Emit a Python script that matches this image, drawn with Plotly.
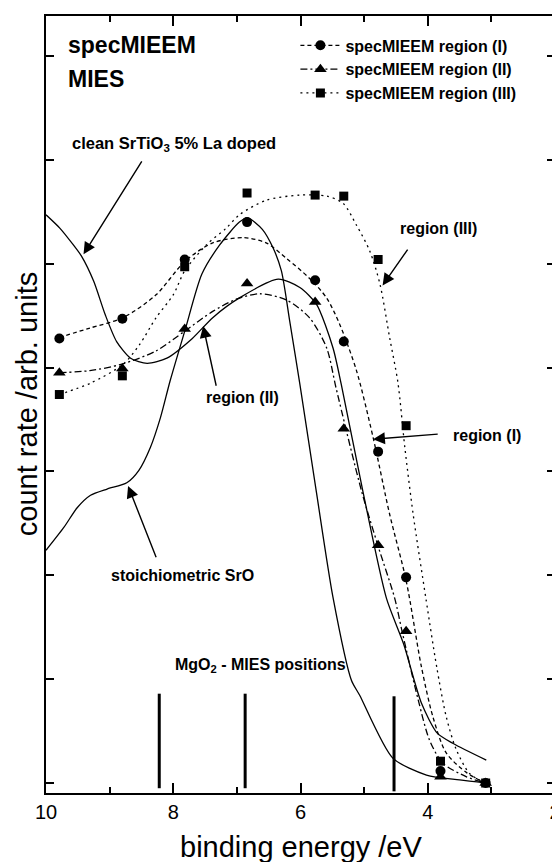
import plotly.graph_objects as go

# ---- measured specMIEEM points (binding energy / count rate, arb. units) ----
x_pts = [9.79, 8.80, 7.82, 6.84, 5.77, 5.32, 4.78, 4.34, 3.80, 3.09]
reg1_y = [4.28, 4.47, 5.04, 5.40, 4.84, 4.25, 3.19, 1.98, 0.115, 0.0]
reg2_y = [3.95, 3.99, 4.37, 4.81, 4.63, 3.41, 2.29, 1.46, 0.06, 0.0]
reg3_y = [3.74, 3.92, 4.97, 5.68, 5.66, 5.65, 5.04, 3.44, 0.21, 0.0]

# ---- smooth fit curves ----
fit1_x = [9.79, 9.31, 8.79, 8.27, 7.82, 7.38, 6.90, 6.54, 6.22, 5.86, 5.59, 5.38, 5.12, 4.86, 4.60, 4.34, 4.10, 3.92, 3.71, 3.39, 3.09]
fit1_y = [4.29, 4.38, 4.48, 4.70, 5.02, 5.20, 5.25, 5.20, 5.05, 4.86, 4.67, 4.41, 3.97, 3.33, 2.59, 1.95, 1.12, 0.64, 0.29, 0.10, 0.0]

fit2_x = [9.79, 9.31, 8.82, 8.27, 7.82, 7.38, 7.00, 6.64, 6.22, 5.86, 5.59, 5.44, 5.04, 4.78, 4.52, 4.40, 4.15, 3.97, 3.76, 3.39, 3.09]
fit2_y = [3.95, 3.97, 4.03, 4.16, 4.35, 4.54, 4.66, 4.71, 4.65, 4.48, 4.19, 3.80, 2.81, 2.28, 1.78, 1.45, 0.80, 0.41, 0.19, 0.06, 0.0]

fit3_x = [9.79, 9.30, 8.79, 8.53, 8.27, 8.00, 7.82, 7.48, 7.17, 6.96, 6.54, 6.01, 5.59, 5.33, 5.12, 4.91, 4.75, 4.60, 4.47, 4.36, 4.23, 4.03, 3.86, 3.71, 3.55, 3.34, 3.09]
fit3_y = [3.74, 3.85, 4.03, 4.22, 4.48, 4.70, 4.93, 5.18, 5.34, 5.47, 5.61, 5.66, 5.65, 5.58, 5.37, 5.12, 4.80, 4.29, 3.86, 3.23, 2.59, 1.78, 1.12, 0.64, 0.32, 0.09, 0.0]

# ---- reference spectra ----
srtio3_x = [10.0, 9.78, 9.57, 9.44, 9.25, 9.07, 8.89, 8.67, 8.41, 8.10, 7.70, 7.38, 6.96, 6.35, 6.01, 5.75, 5.49, 5.36, 5.02, 4.65, 4.38, 4.10, 3.85, 3.60, 3.08]
srtio3_y = [5.47, 5.34, 5.18, 5.07, 4.83, 4.51, 4.25, 4.09, 4.04, 4.09, 4.28, 4.48, 4.67, 4.85, 4.77, 4.61, 4.19, 3.84, 2.81, 1.78, 1.34, 0.77, 0.48, 0.38, 0.22]

sro_x = [10.0, 9.72, 9.51, 9.30, 9.04, 8.73, 8.54, 8.36, 8.20, 8.05, 7.81, 7.55, 7.27, 6.96, 6.83, 6.60, 6.43, 6.30, 6.17, 6.01, 5.75, 5.49, 5.20, 5.07, 4.55, 4.02, 3.50, 3.08]
sro_y = [2.24, 2.46, 2.65, 2.77, 2.83, 2.89, 3.01, 3.23, 3.52, 3.87, 4.37, 4.90, 5.18, 5.40, 5.44, 5.33, 5.15, 4.93, 4.45, 3.84, 2.80, 1.79, 0.99, 0.845, 0.24, 0.077, 0.03, 0.0]

# ---- MgO2 MIES positions (vertical bars) ----
mgo_pos = [8.22, 6.87, 4.53]
mgo_top = [0.86, 0.86, 0.835]
mgo_bottom = [-0.05, -0.05, -0.08]

FONT = "Liberation Sans, Arial, sans-serif"
BLK = "black"

fig = go.Figure()

# reference spectra (solid)
fig.add_trace(go.Scatter(x=srtio3_x, y=srtio3_y, mode="lines", line=dict(color=BLK, width=1.3, shape="spline", smoothing=0.7), showlegend=False))
fig.add_trace(go.Scatter(x=sro_x, y=sro_y, mode="lines", line=dict(color=BLK, width=1.3, shape="spline", smoothing=0.7), showlegend=False))

dash1 = "4px,3px"
dash2 = "7px,3px,2px,3px"
dash3 = "2px,4px"

series = [
    ("specMIEEM region (I)", fit1_x, fit1_y, reg1_y, "circle", 10, dash1),
    ("specMIEEM region (II)", fit2_x, fit2_y, reg2_y, "triangle-up", 11, dash2),
    ("specMIEEM region (III)", fit3_x, fit3_y, reg3_y, "square", 9, dash3),
]
for name, fx, fy, py, sym, ms, dsh in series:
    fig.add_trace(go.Scatter(x=fx, y=fy, mode="lines", line=dict(color=BLK, width=1.3, dash=dsh, shape="spline", smoothing=0.8), showlegend=False))
    fig.add_trace(go.Scatter(x=x_pts, y=py, mode="markers", marker=dict(symbol=sym, size=ms, color=BLK), showlegend=False))
    fig.add_trace(go.Scatter(x=[None], y=[None], mode="lines+markers", name="<b>" + name + "</b>",
                             line=dict(color=BLK, width=1.3, dash=dsh), marker=dict(symbol=sym, size=ms, color=BLK)))

# MgO2 bars
bx, by = [], []
for p, t, b in zip(mgo_pos, mgo_top, mgo_bottom):
    bx += [p, p, None]
    by += [b, t, None]
fig.add_trace(go.Scatter(x=bx, y=by, mode="lines", line=dict(color=BLK, width=3), showlegend=False))

ann = []
def txt(x, y, s, size=16):
    ann.append(dict(x=x, y=y, xref="x", yref="y", text=s, showarrow=False, xanchor="left", yanchor="middle",
                    font=dict(family=FONT, size=size, color=BLK)))

txt(9.69, 7.106, "<b>specMIEEM</b>", 23)
txt(9.69, 6.78, "<b>MIES</b>", 23)
txt(9.63, 6.155, "<b>clean SrTiO<sub>3</sub> 5% La doped</b>", 16.5)
txt(4.47, 5.34, "<b>region (III)</b>")
txt(7.52, 3.71, "<b>region (II)</b>")
txt(3.64, 3.35, "<b>region (I)</b>")
txt(9.01, 2.0, "<b>stoichiometric SrO</b>")
txt(8.0, 1.13, "<b>MgO<sub>2</sub> - MIES positions</b>")

def arrow(hx, hy, tx, ty):
    ann.append(dict(x=hx, y=hy, ax=tx, ay=ty, xref="x", yref="y", axref="x", ayref="y", text="",
                    showarrow=True, arrowhead=2, arrowsize=1.7, arrowwidth=1.4, arrowcolor=BLK))

arrow(9.41, 5.09, 8.48, 6.0)
arrow(4.71, 4.79, 4.30, 5.15)
arrow(7.53, 4.40, 7.32, 3.81)
arrow(4.86, 3.31, 3.82, 3.36)
arrow(8.71, 2.86, 8.26, 2.16)

# axis titles
ann.append(dict(x=0.5, y=-0.0697, xref="paper", yref="paper", text="binding energy /eV", showarrow=False,
                xanchor="center", yanchor="middle", font=dict(family=FONT, size=29, color=BLK)))
ann.append(dict(x=-0.038, y=0.5, xref="paper", yref="paper", text="count rate /arb. units", showarrow=False,
                textangle=-90, xanchor="center", yanchor="middle", font=dict(family=FONT, size=29, color=BLK)))

# the page body adds an 8 px margin, so the plot area is placed 8 px up/left
fig.update_layout(
    width=560, height=862,
    margin=dict(l=38.4, r=12.6, t=6, b=77.3),
    paper_bgcolor="white", plot_bgcolor="white",
    font=dict(family=FONT, color=BLK),
    annotations=ann,
    legend=dict(x=0.49, y=0.984, xanchor="left", yanchor="top", bgcolor="rgba(0,0,0,0)",
                font=dict(family=FONT, size=16, color=BLK), itemwidth=40, tracegroupgap=0),
)
fig.update_xaxes(range=[10, 2], tickvals=[10, 8, 6, 4, 2], ticktext=["10", "8", "6", "4", "2"],
                 ticks="inside", ticklen=10, tickwidth=1.5, tickcolor=BLK, ticklabeloverflow="allow",
                 minor=dict(tickvals=[9, 7, 5, 3], ticks="inside", ticklen=6, tickwidth=1.5, tickcolor=BLK),
                 showline=True, linecolor=BLK, linewidth=2, mirror="ticks", showgrid=False, zeroline=False,
                 tickfont=dict(family=FONT, size=20, color=BLK))
fig.update_yaxes(range=[-0.096, 7.384], tickvals=[0, 1, 2, 3, 4, 5, 6, 7], showticklabels=False,
                 ticks="inside", ticklen=8, tickwidth=1.5, tickcolor=BLK,
                 showline=True, linecolor=BLK, linewidth=2, mirror="ticks", showgrid=False, zeroline=False)

fig.write_html("out.html")
